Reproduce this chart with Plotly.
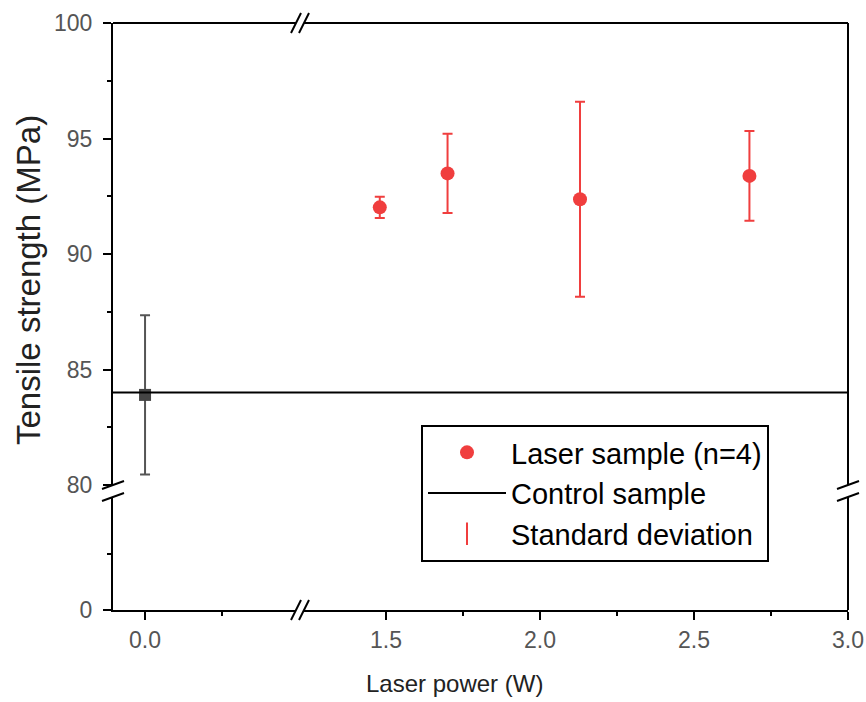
import plotly.graph_objects as go

# ---- data ----
control_power = [0.0]
control_strength = [83.9]
control_sd = [3.45]
control_line_value = 84.0

laser_power = [1.48, 1.70, 2.13, 2.68]
laser_strength = [92.02, 93.49, 92.37, 93.38]
laser_sd = [0.46, 1.72, 4.22, 1.94]

x_left_ticks = [0.0]
x_left_ticklabels = ["0.0"]
x_right_ticks = [1.5, 2.0, 2.5, 3.0]
x_right_ticklabels = ["1.5", "2.0", "2.5", "3.0"]
y_upper_ticks = [80, 85, 90, 95, 100]
y_lower_ticks = [0]

RED = "#F03E3E"
FONT = "Liberation Sans, Arial, sans-serif"

W, H = 866, 702
L, R, T, B = 113, 18, 23, 92
PW, PH = W - L - R, H - T - B

xL_dom = [0, (296 - L) / PW]
xR_dom = [(304 - L) / PW, 1]
yU_dom = [(610 - 485) / PH, 1]
yD_dom = [0, (610 - 497) / PH]

fig = go.Figure()

# empty traces so every axis pair forms a subplot
for xa in ("x", "x2"):
    for ya in ("y", "y2"):
        fig.add_trace(go.Scatter(x=[None], y=[None], xaxis=xa, yaxis=ya,
                                 mode="markers", showlegend=False, hoverinfo="skip"))

fig.add_trace(go.Scatter(
    x=control_power, y=control_strength, xaxis="x", yaxis="y",
    mode="markers", showlegend=False,
    marker=dict(symbol="square", size=12, color="#444444"),
    error_y=dict(type="data", array=control_sd, color="#555555", thickness=2, width=5),
))

fig.add_trace(go.Scatter(
    x=laser_power, y=laser_strength, xaxis="x2", yaxis="y",
    mode="markers", name="Laser sample (n=4)", legendrank=1,
    marker=dict(symbol="circle", size=14, color=RED),
    error_y=dict(type="data", array=laser_sd, color=RED, thickness=2, width=5),
))

fig.add_trace(go.Scatter(
    x=[None], y=[None], xaxis="x2", yaxis="y",
    mode="markers", name="Standard deviation", legendrank=3,
    marker=dict(symbol="line-ns-open", size=22, color=RED, line=dict(color=RED, width=2)),
))

# control horizontal line
fig.add_shape(type="line", xref="paper", yref="y", x0=0, x1=1,
              y0=control_line_value, y1=control_line_value,
              line=dict(color="black", width=2),
              showlegend=True, name="Control sample", legendrank=2)

axis_common = dict(showline=True, linecolor="black", linewidth=2, ticks="outside",
                   ticklen=8, tickwidth=2, tickcolor="black", showgrid=False,
                   zeroline=False, automargin=False,
                   tickfont=dict(family=FONT, size=23, color="#555555"))

minor_common = dict(ticks="outside", ticklen=4, tickwidth=2, tickcolor="black", showgrid=False)

fig.update_layout(
    width=W, height=H,
    margin=dict(l=L, r=R, t=T, b=B, autoexpand=False),
    plot_bgcolor="white", paper_bgcolor="white",
    font=dict(family=FONT, color="black"),
    xaxis=dict(domain=xL_dom, range=[-0.104, 0.49], anchor="y2",
               tickmode="array", tickvals=x_left_ticks, ticktext=x_left_ticklabels,
               minor=dict(tickmode="array", tickvals=[0.25], **minor_common),
               **axis_common),
    xaxis2=dict(domain=xR_dom, range=[1.234, 3.0], anchor="y2",
                tickmode="array", tickvals=x_right_ticks, ticktext=x_right_ticklabels,
                minor=dict(tickmode="array", tickvals=[1.75, 2.25, 2.75], **minor_common),
                **axis_common),
    yaxis=dict(domain=yU_dom, range=[80, 100], anchor="x",
               tickmode="array", tickvals=y_upper_ticks, ticklabelstandoff=6,
               minor=dict(tickmode="array", tickvals=[82.5, 87.5, 92.5, 97.5], **minor_common),
               **axis_common),
    yaxis2=dict(domain=yD_dom, range=[0, 10], anchor="x",
                tickmode="array", tickvals=y_lower_ticks, ticklabelstandoff=6,
                minor=dict(tickmode="array", tickvals=[5], **minor_common),
                **axis_common),
    legend=dict(x=(421 - L) / PW, y=(610 - 425) / PH, xanchor="left", yanchor="top",
                bgcolor="white", bordercolor="black", borderwidth=2,
                font=dict(family=FONT, size=29, color="black"),
                tracegroupgap=0, itemwidth=78),
)

# frame: top and right border with breaks
fig.add_shape(type="line", xref="paper", yref="paper", x0=0, x1=xL_dom[1], y0=1, y1=1,
              line=dict(color="black", width=2))
fig.add_shape(type="line", xref="paper", yref="paper", x0=xR_dom[0], x1=1, y0=1, y1=1,
              line=dict(color="black", width=2))
fig.add_shape(type="line", xref="paper", yref="paper", x0=1, x1=1, y0=yU_dom[0], y1=1,
              line=dict(color="black", width=2))
fig.add_shape(type="line", xref="paper", yref="paper", x0=1, x1=1, y0=0, y1=yD_dom[1],
              line=dict(color="black", width=2))

# break marks on x axes (bottom and top)
for yanc in (0, 1):
    for xanc in (xL_dom[1], xR_dom[0]):
        fig.add_shape(type="line", xref="paper", yref="paper",
                      xsizemode="pixel", ysizemode="pixel",
                      xanchor=xanc, yanchor=yanc,
                      x0=-5, x1=5, y0=-10, y1=10,
                      line=dict(color="black", width=2))
# break marks on y axes (left and right)
for xanc in (0, 1):
    for yanc in (yU_dom[0], yD_dom[1]):
        fig.add_shape(type="line", xref="paper", yref="paper",
                      xsizemode="pixel", ysizemode="pixel",
                      xanchor=xanc, yanchor=yanc,
                      x0=-11, x1=11, y0=-4, y1=4,
                      line=dict(color="black", width=2))

# axis titles
fig.add_annotation(text="Laser power (W)", xref="paper", yref="paper",
                   x=(454 - L) / PW, y=(610 - 684) / PH, showarrow=False,
                   xanchor="center", yanchor="middle",
                   font=dict(family=FONT, size=24, color="#222222"))
fig.add_annotation(text="Tensile strength (MPa)", xref="paper", yref="paper",
                   x=(28 - L) / PW, y=(610 - 280) / PH, showarrow=False, textangle=-90,
                   xanchor="center", yanchor="middle",
                   font=dict(family=FONT, size=33, color="#222222"))

fig.write_html("out.html", config={"displayModeBar": False},
               post_script="document.body.style.margin='0';")
